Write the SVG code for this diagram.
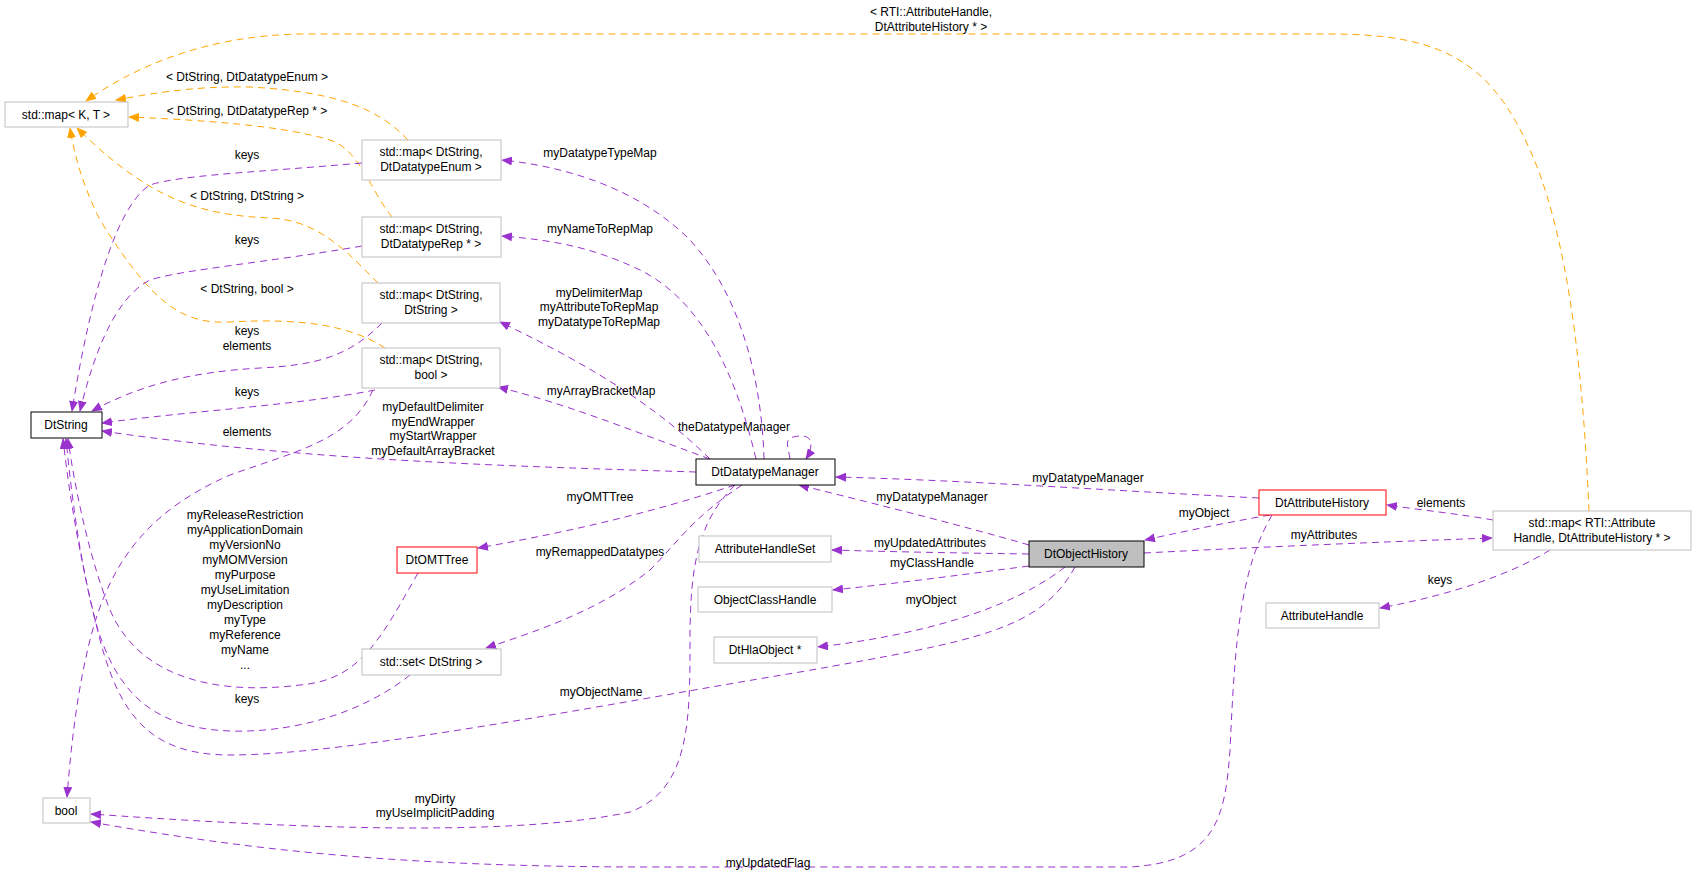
<svg xmlns="http://www.w3.org/2000/svg" width="1696" height="877" viewBox="0 0 1696 877">
<defs>
<marker id="p" markerWidth="11" markerHeight="9" refX="10" refY="4.5" orient="auto" markerUnits="userSpaceOnUse"><path d="M0,0 L11,4.5 L0,9 Z" fill="#9a32cd"/></marker>
<marker id="o" markerWidth="11" markerHeight="9" refX="10" refY="4.5" orient="auto" markerUnits="userSpaceOnUse"><path d="M0,0 L11,4.5 L0,9 Z" fill="#ffa500"/></marker>
</defs>
<style>
text{font-family:"Liberation Sans",Arial,sans-serif;font-size:12px;fill:#000;text-anchor:middle}
.n{fill:#fff;stroke:#bfbfbf}
.b{fill:#fff;stroke:#000}
.r{fill:#fff;stroke:#f00}
.e{fill:none;stroke:#9a32cd;stroke-dasharray:7,5}
.t{fill:none;stroke:#ffa500;stroke-dasharray:7,5}
</style>
<rect width="1696" height="877" fill="#fff"/>
<g id="edges">
<path class="t" d="M1589,511 C1585,420 1575,250 1530,150 C1490,60 1440,34 1330,34 L300,34 C200,36 130,70 86,101" marker-end="url(#o)"/>
<path class="t" d="M408,140 C380,110 340,92 250,87 C190,86 150,94 116,100" marker-end="url(#o)"/>
<path class="t" d="M392,217 C370,190 360,150 330,140 C280,125 200,120 129,117" marker-end="url(#o)"/>
<path class="t" d="M378,283 C350,255 320,220 270,218 C200,215 150,200 77,128" marker-end="url(#o)"/>
<path class="t" d="M385,348 C350,325 300,318 230,322 C180,325 150,300 100,220 C85,190 75,160 70,128" marker-end="url(#o)"/>
<path class="e" d="M362,163 C260,172 180,175 150,185 C110,210 85,330 72,411" marker-end="url(#p)"/>
<path class="e" d="M362,246 C270,262 180,270 150,280 C110,300 90,370 80,411" marker-end="url(#p)"/>
<path class="e" d="M382,323 C350,355 320,365 260,368 C190,372 140,385 92,411" marker-end="url(#p)"/>
<path class="e" d="M375,390 C300,405 200,410 102,423" marker-end="url(#p)"/>
<path class="e" d="M696,472 C500,466 300,460 102,431" marker-end="url(#p)"/>
<path class="e" d="M373,390 C350,440 300,450 230,475 C150,510 110,560 90,640 C75,700 70,760 67,797" marker-end="url(#p)"/>
<path class="e" d="M418,573 C380,640 360,680 300,685 C220,695 140,680 110,610 C90,560 75,490 68,439" marker-end="url(#p)"/>
<path class="e" d="M410,675 C360,715 290,733 230,731 C150,728 115,690 95,620 C80,560 72,500 66,439" marker-end="url(#p)"/>
<path class="e" d="M1075,567 C1040,630 980,640 800,672 C600,705 350,755 230,755 C150,755 120,715 100,640 C80,560 70,500 63,439" marker-end="url(#p)"/>
<path class="e" d="M735,485 C700,520 690,560 690,640 C690,720 690,790 630,812 C500,840 250,825 91,814" marker-end="url(#p)"/>
<path class="e" d="M1272,515 C1240,570 1235,640 1230,750 C1225,820 1215,862 1130,867 L650,867 C400,867 250,850 91,822" marker-end="url(#p)"/>
<path class="e" d="M790,459 C788,445 782,437 800,436 C815,435 812,450 806,459" marker-end="url(#p)"/>
<path class="e" d="M764,459 C762,390 745,300 690,240 C640,190 570,167 502,160" marker-end="url(#p)"/>
<path class="e" d="M756,459 C735,370 700,300 640,270 C590,246 550,240 502,236" marker-end="url(#p)"/>
<path class="e" d="M710,459 C660,410 600,370 500,322" marker-end="url(#p)"/>
<path class="e" d="M710,459 C630,430 570,405 498,387" marker-end="url(#p)"/>
<path class="e" d="M735,485 C660,510 580,530 478,548" marker-end="url(#p)"/>
<path class="e" d="M742,485 C690,520 680,540 650,570 C600,610 540,630 486,648" marker-end="url(#p)"/>
<path class="e" d="M1029,545 C960,525 880,505 799,485" marker-end="url(#p)"/>
<path class="e" d="M1259,498 C1100,490 960,480 836,477" marker-end="url(#p)"/>
<path class="e" d="M1029,554 C960,553 900,552 832,550" marker-end="url(#p)"/>
<path class="e" d="M1029,566 C960,575 900,583 833,590" marker-end="url(#p)"/>
<path class="e" d="M1065,567 C1010,610 920,635 818,647" marker-end="url(#p)"/>
<path class="e" d="M1270,515 C1230,522 1190,530 1145,540" marker-end="url(#p)"/>
<path class="e" d="M1144,553 C1260,547 1380,542 1492,538" marker-end="url(#p)"/>
<path class="e" d="M1493,520 C1460,514 1420,510 1387,505" marker-end="url(#p)"/>
<path class="e" d="M1550,550 C1510,575 1450,595 1380,608" marker-end="url(#p)"/>
</g>
<g id="labels">
<text x="931" y="16">&lt; RTI::AttributeHandle,</text><text x="931" y="31">DtAttributeHistory * &gt;</text>
<text x="247" y="81">&lt; DtString, DtDatatypeEnum &gt;</text>
<text x="247" y="115">&lt; DtString, DtDatatypeRep * &gt;</text>
<text x="247" y="200">&lt; DtString, DtString &gt;</text>
<text x="247" y="293">&lt; DtString, bool &gt;</text>
<text x="247" y="159">keys</text><text x="247" y="244">keys</text>
<text x="247" y="335">keys</text><text x="247" y="350">elements</text>
<text x="247" y="396">keys</text><text x="247" y="436">elements</text>
<text x="600" y="157">myDatatypeTypeMap</text>
<text x="600" y="233">myNameToRepMap</text>
<text x="599" y="297">myDelimiterMap</text><text x="599" y="311">myAttributeToRepMap</text><text x="599" y="326">myDatatypeToRepMap</text>
<text x="601" y="395">myArrayBracketMap</text>
<text x="433" y="411">myDefaultDelimiter</text><text x="433" y="426">myEndWrapper</text><text x="433" y="440">myStartWrapper</text><text x="433" y="455">myDefaultArrayBracket</text>
<text x="734" y="431">theDatatypeManager</text>
<text x="600" y="501">myOMTTree</text>
<text x="600" y="556">myRemappedDatatypes</text>
<text x="245" y="519">myReleaseRestriction</text><text x="245" y="534">myApplicationDomain</text><text x="245" y="549">myVersionNo</text><text x="245" y="564">myMOMVersion</text><text x="245" y="579">myPurpose</text><text x="245" y="594">myUseLimitation</text><text x="245" y="609">myDescription</text><text x="245" y="624">myType</text><text x="245" y="639">myReference</text><text x="245" y="654">myName</text><text x="245" y="669">...</text>
<text x="247" y="703">keys</text>
<text x="601" y="696">myObjectName</text>
<text x="435" y="803">myDirty</text><text x="435" y="817">myUseImplicitPadding</text>
<text x="768" y="867">myUpdatedFlag</text>
<text x="932" y="501">myDatatypeManager</text>
<text x="1088" y="482">myDatatypeManager</text>
<text x="1204" y="517">myObject</text>
<text x="1441" y="507">elements</text>
<text x="1324" y="539">myAttributes</text>
<text x="930" y="547">myUpdatedAttributes</text>
<text x="932" y="567">myClassHandle</text>
<text x="931" y="604">myObject</text>
<text x="1440" y="584">keys</text>
</g>
<g id="mapKT"><rect class="n" x="5" y="102" width="123" height="25"/><text x="66" y="119">std::map&lt; K, T &gt;</text></g>
<g id="DtString"><rect class="b" x="31" y="412" width="71" height="26"/><text x="66" y="429">DtString</text></g>
<g id="bool"><rect class="n" x="43" y="798" width="47" height="25"/><text x="66" y="815">bool</text></g>
<g id="mapEnum"><rect class="n" x="362" y="140" width="139" height="40"/><text x="431" y="156">std::map&lt; DtString,</text><text x="431" y="171">DtDatatypeEnum &gt;</text></g>
<g id="mapRep"><rect class="n" x="362" y="217" width="139" height="40"/><text x="431" y="233">std::map&lt; DtString,</text><text x="431" y="248">DtDatatypeRep * &gt;</text></g>
<g id="mapStr"><rect class="n" x="362" y="283" width="138" height="40"/><text x="431" y="299">std::map&lt; DtString,</text><text x="431" y="314">DtString &gt;</text></g>
<g id="mapBool"><rect class="n" x="362" y="348" width="138" height="40"/><text x="431" y="364">std::map&lt; DtString,</text><text x="431" y="379">bool &gt;</text></g>
<g id="DtDatatypeManager"><rect class="b" x="696" y="459" width="139" height="26"/><text x="765" y="476">DtDatatypeManager</text></g>
<g id="DtOMTTree"><rect class="r" x="397" y="547" width="80" height="26"/><text x="437" y="564">DtOMTTree</text></g>
<g id="setStr"><rect class="n" x="362" y="649" width="139" height="26"/><text x="431" y="666">std::set&lt; DtString &gt;</text></g>
<g id="AttributeHandleSet"><rect class="n" x="699" y="536" width="132" height="26"/><text x="765" y="553">AttributeHandleSet</text></g>
<g id="ObjectClassHandle"><rect class="n" x="698" y="587" width="134" height="25"/><text x="765" y="604">ObjectClassHandle</text></g>
<g id="DtHlaObject"><rect class="n" x="714" y="637" width="103" height="26"/><text x="765" y="654">DtHlaObject *</text></g>
<g id="DtObjectHistory"><rect x="1029" y="541" width="115" height="26" fill="#bfbfbf" stroke="#000"/><text x="1086" y="558">DtObjectHistory</text></g>
<g id="DtAttributeHistory"><rect class="r" x="1259" y="490" width="127" height="25"/><text x="1322" y="507">DtAttributeHistory</text></g>
<g id="mapAttr"><rect class="n" x="1493" y="511" width="198" height="39"/><text x="1592" y="527">std::map&lt; RTI::Attribute</text><text x="1592" y="542">Handle, DtAttributeHistory * &gt;</text></g>
<g id="AttributeHandle"><rect class="n" x="1266" y="603" width="113" height="25"/><text x="1322" y="620">AttributeHandle</text></g>
</svg>
